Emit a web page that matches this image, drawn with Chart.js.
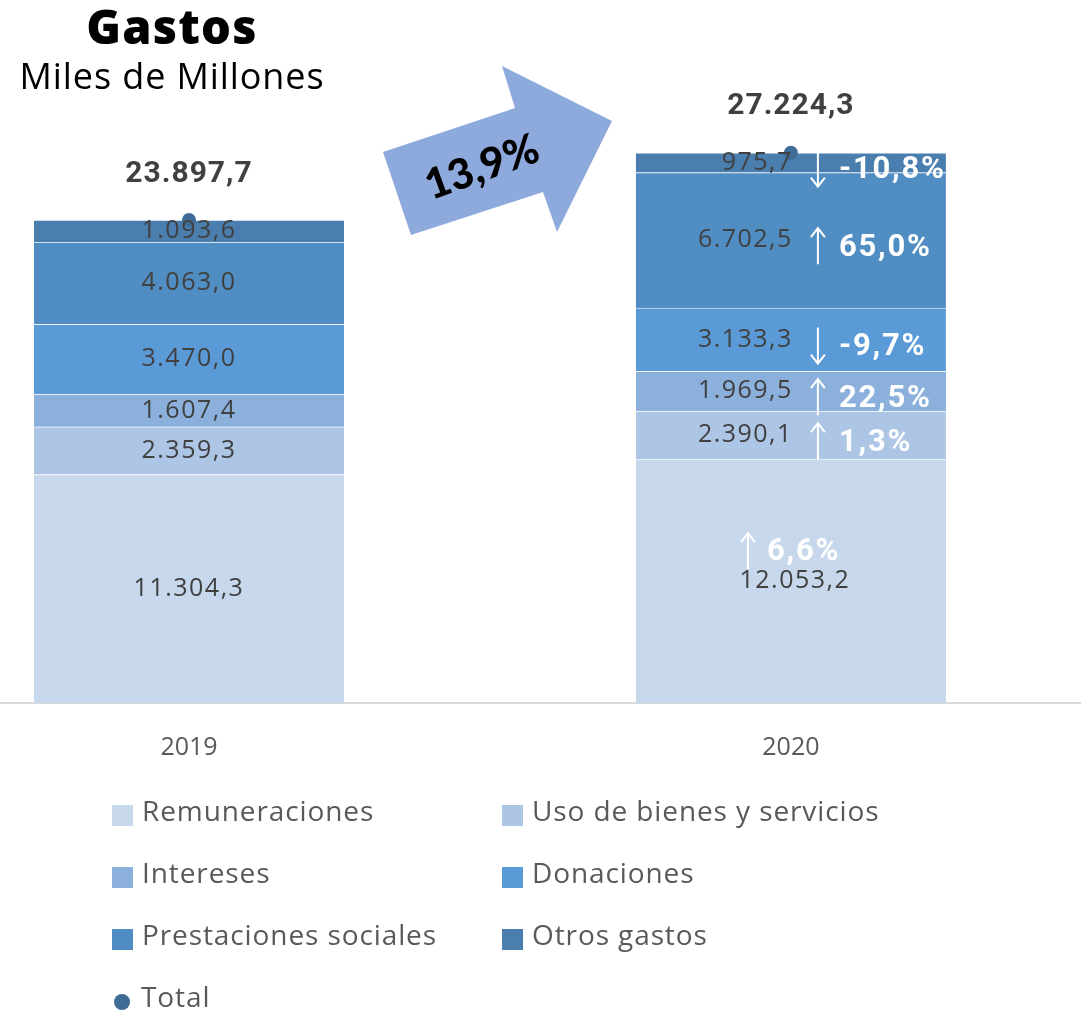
<!DOCTYPE html>
<html>
<head>
<meta charset="utf-8">
<script src="https://cdn.jsdelivr.net/npm/chart.js@4"></script>
<style>
    body { margin: 0; background: #fff; font-family: "Open Sans", sans-serif; }
    #wrap { position: relative; width: 1081px; height: 1010px; overflow: hidden; }
    #myChart { position: absolute; left: 0; top: 0; }
    .title { position: absolute; left: 0; width: 344px; text-align: center; color: #000; white-space: nowrap; }
    #t1 { top: -6px; font-family: "Open Sans"; font-weight: 800; font-size: 47px; letter-spacing: 1.2px; }
    #t2 { top: 51px; font-family: "Open Sans"; font-size: 36px; letter-spacing: 0.9px; }
    #deco { position: absolute; left: 0; top: 0; }
    #legend { position: absolute; left: 112px; top: 790px; display: grid; grid-template-columns: 390px 390px; row-gap: 22px; }
    .item { display: flex; align-items: center; height: 40px; color: #595959; font-size: 28px; letter-spacing: 0.9px; white-space: nowrap; }
    .box { width: 21px; height: 21px; margin-right: 9px; margin-top: 10px; flex: none; }
    .dot { width: 16px; height: 16px; border-radius: 50%; margin: 12px 11px 0 2px; flex: none; }
</style>
</head>
<body>
<div id="wrap">
    <canvas id="myChart" width="1081" height="793"></canvas>
    <svg id="deco" width="1081" height="260">
        <polygon points="383,152 515,108 502,66 612,121 557,232 543,192 411,235" fill="#8EA9DB"/>
        <text x="482" y="181" transform="rotate(-20 482 167)" text-anchor="middle"
              font-family="Lato" font-weight="900" font-size="42" fill="#000">13,9%</text>
    </svg>
    <div class="title" id="t1">Gastos</div>
    <div class="title" id="t2">Miles de Millones</div>
    <div id="legend"></div>
</div>
<script>
    "use strict";

    // data
    const years = [2019, 2020];
    const remuneraciones = [11304.3, 12053.2];
    const usoBienes = [2359.3, 2390.1];
    const intereses = [1607.4, 1969.5];
    const donaciones = [3470.0, 3133.3];
    const prestaciones = [4063.0, 6702.5];
    const otrosGastos = [1093.6, 975.7];
    const totals = [23897.7, 27224.3];
    // variation 2019 -> 2020, as printed
    const changes = [6.6, 1.3, 22.5, -9.7, 65.0, -10.8];

    const VALUE_FONT = '25px "Open Sans"';
    const PCT_FONT = 'bold 31px Roboto';
    const TEXT_COLOR = '#404040';

    function fmt(v) {
        let parts = v.toFixed(1).split('.');
        parts[0] = parts[0].replace(/\B(?=(\d{3})+(?!\d))/g, '.');
        return parts.join(',');
    }

    function pts(arr) {
        return years.map((y, i) => ({ x: y, y: arr[i] }));
    }

    function drawArrow(ctx, x, yc, up) {
        let top = yc - 18, bottom = yc + 18;
        ctx.save();
        ctx.strokeStyle = '#fff';
        ctx.lineWidth = 2;
        ctx.beginPath();
        ctx.moveTo(x, top);
        ctx.lineTo(x, bottom);
        let tip = up ? top : bottom, d = up ? 9 : -9;
        ctx.moveTo(x - 7, tip + d);
        ctx.lineTo(x, tip);
        ctx.lineTo(x + 7, tip + d);
        ctx.stroke();
        ctx.restore();
    }

    const labelPlugin = {
        id: 'labels',
        afterDatasetsDraw(chart) {
            const ctx = chart.ctx;
            ctx.save();
            ctx.textBaseline = 'middle';
            chart.data.datasets.forEach((ds, di) => {
                const meta = chart.getDatasetMeta(di);
                meta.data.forEach((el, i) => {
                    const v = ds.data[i].y;
                    if (ds.type === 'line') {
                        ctx.font = 'bold 30px Roboto';
                        ctx.letterSpacing = '1px';
                        ctx.fillStyle = TEXT_COLOR;
                        ctx.textAlign = 'center';
                        ctx.fillText(fmt(v), el.x, el.y - 46);
                        return;
                    }
                    const yc = (el.y + el.base) / 2;
                    ctx.font = VALUE_FONT;
                    ctx.letterSpacing = '1.5px';
                    ctx.fillStyle = TEXT_COLOR;
                    if (i === 0) {
                        ctx.textAlign = 'center';
                        ctx.fillText(fmt(v), el.x, yc);
                        return;
                    }
                    const ch = changes[di];
                    const txt = (ch < 0 ? '-' : '') + fmt(Math.abs(ch)) + '%';
                    if (el.base - el.y > 150) {
                        ctx.textAlign = 'center';
                        ctx.fillText(fmt(v), el.x + 4, yc);
                        drawArrow(ctx, el.x - 43, yc - 30, ch >= 0);
                        ctx.font = PCT_FONT;
                        ctx.letterSpacing = '1.8px';
                        ctx.fillStyle = '#fff';
                        ctx.textAlign = 'left';
                        ctx.fillText(txt, el.x - 24, yc - 29);
                    } else {
                        ctx.textAlign = 'right';
                        ctx.fillText(fmt(v), el.x + 2, yc);
                        drawArrow(ctx, el.x + 27, yc + 6, ch >= 0);
                        ctx.font = PCT_FONT;
                        ctx.letterSpacing = '1.8px';
                        ctx.fillStyle = '#fff';
                        ctx.textAlign = 'left';
                        ctx.fillText(txt, el.x + 48, yc + 8);
                    }
                });
            });
            ctx.restore();
        }
    };

    function barSet(label, arr, color) {
        return {
            type: 'bar',
            label: label,
            data: pts(arr),
            backgroundColor: color,
            borderColor: 'rgba(255,255,255,0.25)',
            borderWidth: { top: 1 },
            borderSkipped: 'bottom',
            barThickness: 310,
            stack: 'gastos',
            order: 2
        };
    }

    const ctx = document.getElementById('myChart').getContext('2d');
    const chart = new Chart(ctx, {
        data: {
            datasets: [
                barSet('Remuneraciones', remuneraciones, '#C7D8EC'),
                barSet('Uso de bienes y servicios', usoBienes, '#ADC6E5'),
                barSet('Intereses', intereses, '#8BB0DC'),
                barSet('Donaciones', donaciones, '#5A9AD6'),
                barSet('Prestaciones sociales', prestaciones, '#508DC2'),
                barSet('Otros gastos', otrosGastos, '#4A7EAF'),
                {
                    type: 'line',
                    label: 'Total',
                    data: pts(totals),
                    showLine: false,
                    pointRadius: 7,
                    pointBackgroundColor: '#3F6B97',
                    pointBorderWidth: 0,
                    stack: 'total',
                    order: 1
                }
            ]
        },
        options: {
            responsive: false,
            animation: false,
            layout: { padding: 0, autoPadding: false },
            scales: {
                x: {
                    type: 'linear',
                    stacked: true,
                    offset: false,
                    min: 2018.686,
                    max: 2020.482,
                    afterBuildTicks: axis => { axis.ticks = years.map(v => ({ value: v })); },
                    ticks: {
                        padding: 30,
                        color: '#595959',
                        font: { family: 'Open Sans', size: 25 },
                        callback: v => String(v)
                    },
                    grid: { display: false, drawTicks: false },
                    border: { display: true, color: '#D9D9D9', width: 2 }
                },
                y: {
                    stacked: true,
                    display: false,
                    min: 0,
                    max: 34783
                }
            },
            plugins: {
                legend: { display: false },
                tooltip: { enabled: false }
            }
        },
        plugins: [labelPlugin]
    });

    // two-column legend built from the chart datasets
    const legend = document.getElementById('legend');
    chart.data.datasets.forEach(ds => {
        let item = document.createElement('div');
        item.className = 'item';
        let mark = document.createElement('span');
        mark.className = ds.type === 'line' ? 'dot' : 'box';
        mark.style.background = ds.type === 'line' ? ds.pointBackgroundColor : ds.backgroundColor;
        item.appendChild(mark);
        item.appendChild(document.createTextNode(ds.label));
        legend.appendChild(item);
    });
</script>
</body>
</html>
